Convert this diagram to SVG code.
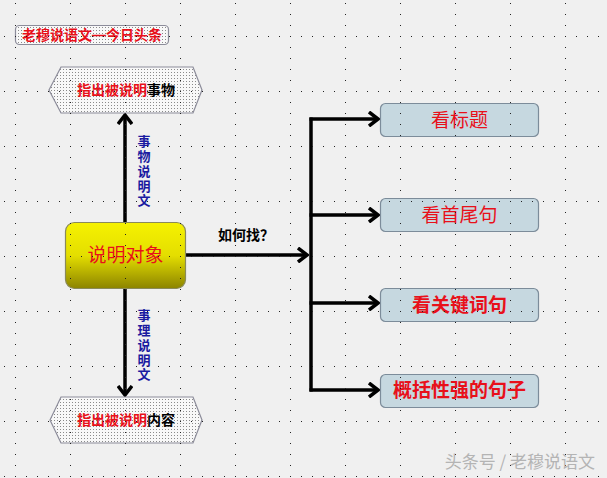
<svg xmlns="http://www.w3.org/2000/svg" width="607" height="478" viewBox="0 0 607 478">
<defs>
<pattern id="grid" x="15" y="36" width="55" height="55" patternUnits="userSpaceOnUse">
<g fill="#222"><rect x="0" y="0" width="1" height="1"/><rect x="11" y="0" width="1" height="1"/><rect x="22" y="0" width="1" height="1"/><rect x="33" y="0" width="1" height="1"/><rect x="44" y="0" width="1" height="1"/><rect x="0" y="11" width="1" height="1"/><rect x="0" y="22" width="1" height="1"/><rect x="0" y="33" width="1" height="1"/><rect x="0" y="44" width="1" height="1"/></g>
</pattern>
<pattern id="stip" x="0" y="0" width="3" height="3" patternUnits="userSpaceOnUse">
<rect width="3" height="3" fill="#f8f8f8"/><rect x="0" y="0" width="1" height="1" fill="#8a8a8a"/>
</pattern>
<linearGradient id="yel" x1="0" y1="0" x2="0" y2="1">
<stop offset="0" stop-color="#f6f200"/><stop offset="0.5" stop-color="#e4de00"/><stop offset="1" stop-color="#8c8400"/>
</linearGradient>
<marker id="arr" viewBox="0 0 12 16" refX="10" refY="8" markerWidth="12" markerHeight="16" markerUnits="userSpaceOnUse" orient="auto">
<path d="M1,1 L10,8 L1,15" fill="none" stroke="#000" stroke-width="3.5"/>
</marker>
<style>
.hex{fill:url(#stip);stroke:#8c8c9a;stroke-width:1.2}
.blue{fill:#c6d8e0;stroke:#7c8c9a;stroke-width:1.2}
.red{fill:#e8101a;font-family:"Liberation Sans","Noto Sans CJK SC",sans-serif;}
.lbl{font-family:"Liberation Sans","Noto Sans CJK SC",sans-serif;font-weight:bold}
.con{stroke:#000;stroke-width:3.5;fill:none}
</style>
</defs>
<rect width="607" height="478" fill="#f0f0f0"/>

<g id="title">
<rect x="15.5" y="25.5" width="153" height="19" rx="4" class="hex"/>
<text x="92" y="40" text-anchor="middle" font-size="14" font-weight="bold" class="red">老穆说语文—今日头条</text>
</g>

<g id="connectors">
<line x1="125" y1="222" x2="125" y2="115" class="con" marker-end="url(#arr)"/>
<line x1="125" y1="289" x2="125" y2="395" class="con" marker-end="url(#arr)"/>
<line x1="186" y1="255" x2="307" y2="255" class="con" marker-end="url(#arr)"/>
<line x1="311" y1="117.5" x2="311" y2="391.5" class="con"/>
<line x1="309.5" y1="119" x2="378" y2="119" class="con" marker-end="url(#arr)"/>
<line x1="309.5" y1="215" x2="378" y2="215" class="con" marker-end="url(#arr)"/>
<line x1="309.5" y1="303" x2="378" y2="303" class="con" marker-end="url(#arr)"/>
<line x1="309.5" y1="390" x2="378" y2="390" class="con" marker-end="url(#arr)"/>
<g class="lbl" font-size="13" fill="#1a1aa0" text-anchor="middle">
<text x="144" y="146">事</text><text x="144" y="161">物</text><text x="144" y="176">说</text><text x="144" y="191">明</text><text x="144" y="205">文</text>
<text x="144" y="320">事</text><text x="144" y="335">理</text><text x="144" y="350">说</text><text x="144" y="365">明</text><text x="144" y="379">文</text>
</g>
<text x="246" y="240" text-anchor="middle" font-size="14" class="lbl" fill="#000">如何找？</text>
</g>

<g id="node-thing">
<polygon points="49,90 61,67 193,67 202,90 193,113 61,113" class="hex"/>
<text x="126" y="95" text-anchor="middle" font-size="14" font-weight="bold" class="red">指出被说明<tspan fill="#000">事物</tspan></text>
</g>

<g id="node-content">
<polygon points="50,420 61,397 193,397 202,420 193,443 61,443" class="hex"/>
<text x="126" y="425" text-anchor="middle" font-size="14" font-weight="bold" class="red">指出被说明<tspan fill="#000">内容</tspan></text>
</g>

<g id="node-object">
<rect x="65.5" y="222.5" width="120" height="66" rx="9" fill="url(#yel)" stroke="#8a8a5a" stroke-width="1.2"/>
<text x="125.5" y="262" text-anchor="middle" font-size="19" class="red" fill="#e8281a">说明对象</text>
</g>

<g id="node-title-look">
<rect x="380.5" y="103.5" width="158" height="33" rx="5" class="blue"/>
<text x="459.5" y="127" text-anchor="middle" font-size="19" class="red">看标题</text>
</g>
<g id="node-headtail">
<rect x="380.5" y="198.5" width="158" height="33" rx="5" class="blue"/>
<text x="459.5" y="222" text-anchor="middle" font-size="19" class="red">看首尾句</text>
</g>
<g id="node-keywords">
<rect x="380.5" y="288.5" width="158" height="33" rx="5" class="blue"/>
<text x="459.5" y="312" text-anchor="middle" font-size="19" font-weight="bold" class="red">看关键词句</text>
</g>
<g id="node-summary">
<rect x="380.5" y="374.5" width="158" height="33" rx="5" class="blue"/>
<text x="459.5" y="397" text-anchor="middle" font-size="19" font-weight="bold" class="red">概括性强的句子</text>
</g>

<rect width="607" height="478" fill="url(#grid)" pointer-events="none"/>

<text x="595" y="468" text-anchor="end" font-size="17" font-family="Noto Sans CJK SC, sans-serif" fill="#b4b4b4">头条号 / 老穆说语文</text>
</svg>
